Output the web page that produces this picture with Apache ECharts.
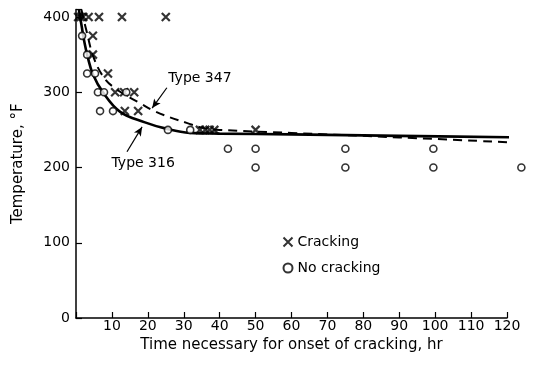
<!DOCTYPE html>
<html><head><meta charset="utf-8">
<script src="https://cdn.jsdelivr.net/npm/echarts@6/dist/echarts.min.js"></script>
<style>html,body{margin:0;padding:0;background:#fff}#c{width:538px;height:366px}</style>
</head><body><div id="c"></div>
<script>
var xTicks = [0,10,20,30,40,50,60,70,80,90,100,110,120];
var yTicks = [0,100,200,300,400];
var crackX = [0.6,1.3,2.0,3.5,6.4,12.8,25.0,4.7,4.7,8.9,10.9,13.4,16.2,13.6,17.3,34.5,36.0,37.2,38.5,50.0];
var crackY = [400,400,400,400,400,400,400,375,350,325,300,300,300,275,275,250,250,250,250,250];
var noCrackX = [1.7,3.1,3.1,5.3,6.1,7.8,14.0,6.7,10.3,25.6,31.8,42.3,50.0,75.0,99.5,50.0,75.0,99.5,124.0];
var noCrackY = [375,350,325,325,300,300,300,275,275,250,250,225,225,225,225,200,200,200,200];
var t316X = [0.8,1.5,2.4,3.2,4.7,7.5,12.3,19.2,24.8,31.7,40,60,90,124];
var t316Y = [410,390,365,348,324,300,274,260,252,246,245,244,242,240];
var t347X = [1.5,3,5,8,11,15,18,21.4,26,31,35,40,60,90,123];
var t347Y = [410,380,345,318,305,293,285,276,267,259,253,250,246,240,233];
var font = 'DejaVu Sans';

var chart = echarts.init(document.getElementById('c'));
function zip(a,b){return a.map(function(v,i){return [v,b[i]];});}
var crossPath = 'path://M0,0L10,10M10,0L0,10';
chart.setOption({
  animation:false,
  grid:{left:76,right:31,top:9.5,bottom:48},
  xAxis:{type:'value',min:0,max:120,interval:10,
    axisLine:{lineStyle:{color:'#000',width:1.5}},
    axisTick:{inside:true,length:6,lineStyle:{color:'#000',width:1.2}},
    splitLine:{show:false},
    axisLabel:{color:'#000',fontFamily:font,fontSize:14,margin:1,
      formatter:function(v){return v===0?'':String(v);}},
    name:'Time necessary for onset of cracking, hr',nameLocation:'middle',nameGap:19,
    nameTextStyle:{color:'#000',fontFamily:font,fontSize:15}},
  yAxis:{type:'value',min:0,max:410,interval:100,
    axisLine:{show:true,lineStyle:{color:'#000',width:1.5}},
    axisTick:{show:true,inside:true,length:6,lineStyle:{color:'#000',width:1.2}},
    splitLine:{show:false},
    axisLabel:{color:'#000',fontFamily:font,fontSize:14,margin:6,
      formatter:function(v){return yTicks.indexOf(v)>=0?String(v):'';}},
    name:'Temperature, °F',nameLocation:'middle',nameGap:50,
    nameTextStyle:{color:'#000',fontFamily:font,fontSize:15}},
  legend:{orient:'vertical',left:276,top:230,itemGap:12,itemWidth:9,itemHeight:9,
    textStyle:{color:'#000',fontFamily:font,fontSize:14},
    data:[{name:'Cracking'},{name:'No cracking'}]},
  series:[
    {name:'Type 316',type:'line',data:zip(t316X,t316Y),smooth:0.4,showSymbol:false,
      lineStyle:{color:'#000',width:2.6},clip:false,
      markLine:{silent:true,symbol:['none','arrow'],symbolSize:[6,9],
        lineStyle:{color:'#000',width:1.2,type:'solid'},label:{show:false},
        data:[[{coord:[14.2,221]},{coord:[18.4,254]}],[{coord:[25.3,306]},{coord:[21.2,279]}]]},
      markPoint:{symbol:'circle',symbolSize:1,itemStyle:{color:'transparent'},
        label:{show:true,color:'#000',fontFamily:font,fontSize:14,position:'inside'},
        data:[{coord:[18.7,205],value:'Type 316'},{coord:[34.5,319],value:'Type 347'}]}},
    {name:'Type 347',type:'line',data:zip(t347X,t347Y),smooth:0.4,showSymbol:false,
      lineStyle:{color:'#000',width:2,type:[9,6]},clip:false},
    {name:'Cracking',type:'scatter',data:zip(crackX,crackY),symbol:crossPath,symbolSize:8,clip:false,
      itemStyle:{color:'none',borderColor:'#000',borderWidth:2.2},z:5},
    {name:'No cracking',type:'scatter',data:zip(noCrackX,noCrackY),symbol:'circle',symbolSize:7,clip:false,
      itemStyle:{color:'#fff',borderColor:'#000',borderWidth:1.6},z:6}
  ]
});
</script></body></html>
